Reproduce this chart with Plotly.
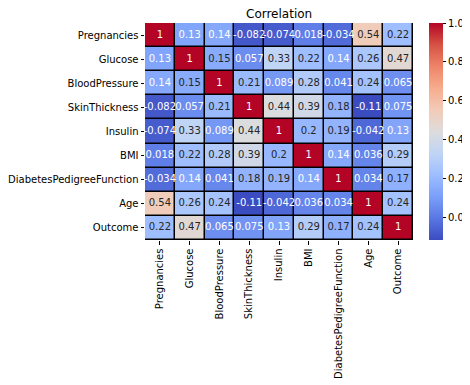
import plotly.graph_objects as go

labels = ["Pregnancies", "Glucose", "BloodPressure", "SkinThickness", "Insulin",
          "BMI", "DiabetesPedigreeFunction", "Age", "Outcome"]

corr = [
    [1.000000, 0.129459, 0.141282, -0.081672, -0.073535, 0.017683, -0.033523, 0.544341, 0.221898],
    [0.129459, 1.000000, 0.152590, 0.057328, 0.331357, 0.221071, 0.137337, 0.263514, 0.466581],
    [0.141282, 0.152590, 1.000000, 0.207371, 0.088933, 0.281805, 0.041265, 0.239528, 0.065068],
    [-0.081672, 0.057328, 0.207371, 1.000000, 0.436783, 0.392573, 0.183928, -0.113970, 0.074752],
    [-0.073535, 0.331357, 0.088933, 0.436783, 1.000000, 0.197859, 0.185071, -0.042163, 0.130548],
    [0.017683, 0.221071, 0.281805, 0.392573, 0.197859, 1.000000, 0.140647, 0.036242, 0.292695],
    [-0.033523, 0.137337, 0.041265, 0.183928, 0.185071, 0.140647, 1.000000, 0.033561, 0.173844],
    [0.544341, 0.263514, 0.239528, -0.113970, -0.042163, 0.036242, 0.033561, 1.000000, 0.238356],
    [0.221898, 0.466581, 0.065068, 0.074752, 0.130548, 0.292695, 0.173844, 0.238356, 1.000000],
]

coolwarm = ['#3b4cc0', '#5977e3', '#7b9ff9', '#9ebeff', '#c0d4f5', '#dddcdc',
            '#f2cbb7', '#f7ac8e', '#ee8468', '#d65244', '#b40426']
colorscale = [[i / 10, c] for i, c in enumerate(coolwarm)]

vmin = min(min(r) for r in corr)
vmax = 1.0

font = "DejaVu Sans"

fig = go.Figure()
fig.add_trace(go.Heatmap(
    z=corr, x=labels, y=labels, colorscale=colorscale, zmin=vmin, zmax=vmax,
    xgap=1.5, ygap=1.5, hoverinfo="skip",
    colorbar=dict(
        x=1.0609, xanchor="left", xref="paper", y=0.5, yanchor="middle",
        thickness=14, thicknessmode="pixels", len=217, lenmode="pixels",
        xpad=0, ypad=0,
        outlinewidth=0, tickvals=[0, 0.2, 0.4, 0.6, 0.8, 1.0], tickformat=".1f",
        ticks="outside", ticklen=3.5, tickwidth=0.8, tickcolor="black",
        tickfont=dict(family=font, size=10, color="black"),
    ),
))

xs, ys, txt, cols = [], [], [], []
for i, row in enumerate(corr):
    for j, v in enumerate(row):
        xs.append(labels[j])
        ys.append(labels[i])
        txt.append("%.2g" % v)
        cols.append("white" if (v < 0.145 or v > 0.9) else "#262626")

fig.add_trace(go.Scatter(
    x=xs, y=ys, mode="text", text=txt,
    textfont=dict(family=font, size=10, color=cols),
    hoverinfo="skip", showlegend=False, cliponaxis=False,
))

fig.update_layout(
    width=462, height=377,
    margin=dict(l=137, r=57, t=15, b=145, autoexpand=False),
    paper_bgcolor="white", plot_bgcolor="black",
    showlegend=False,
    font=dict(family=font, size=10, color="black"),
    annotations=[dict(
        text="Correlation", x=0.5, y=1, xref="paper", yref="paper",
        xanchor="center", yanchor="bottom", yshift=0, showarrow=False,
        font=dict(family=font, size=12, color="black"),
    )],
)
fig.update_xaxes(
    type="category", tickangle=-90, ticks="outside", ticklen=3.5, tickwidth=0.8,
    tickcolor="black", showgrid=False, zeroline=False, showline=False,
    automargin=False,
    tickfont=dict(family=font, size=10, color="black"),
)
fig.update_yaxes(
    type="category", autorange="reversed", ticks="outside", ticklen=3.5,
    tickwidth=0.8, tickcolor="black", showgrid=False, zeroline=False, showline=False,
    automargin=False,
    tickfont=dict(family=font, size=10, color="black"),
)

fig.write_html("out.html")
